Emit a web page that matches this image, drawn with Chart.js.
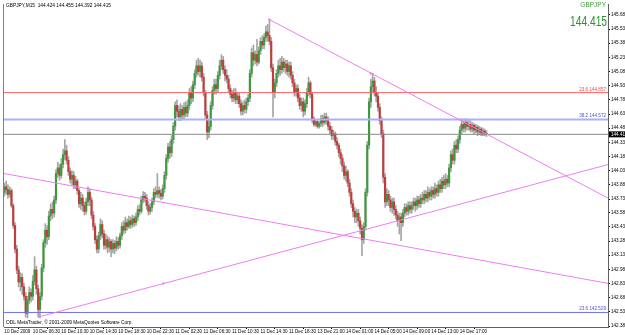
<!DOCTYPE html>
<html>
<head>
<meta charset="UTF-8">
<title>GBPJPY,M15</title>
<script src="https://cdn.jsdelivr.net/npm/chart.js"></script>
<style>
  body { margin: 0; background: #fff; }
  #wrap { width: 625px; height: 335px; }
</style>
</head>
<body>
<div id="wrap"><canvas id="chart" width="625" height="335"></canvas></div>
<script>
const symbol = "GBPJPY";
const period = "M15";

// M15 candles, 10 Dec 2009 02:30 -> 14 Dec 2009
const opens = [
  143.80, 143.86, 143.83, 143.78, 143.82, 143.66, 143.45, 143.20, 142.98, 142.85,
  142.90, 142.80, 142.70, 142.52, 142.66, 142.74, 142.70, 142.86, 142.98, 142.78,
  142.56, 142.70, 143.00, 143.27, 143.40, 143.33, 143.55, 143.62, 143.58, 143.72,
  144.00, 144.06, 143.98, 144.10, 144.20, 144.24, 144.14, 144.02, 143.94, 143.98,
  143.88, 143.92, 143.82, 143.68, 143.74, 143.66, 143.60, 143.70, 143.80, 143.72,
  143.56, 143.44, 143.30, 143.20, 143.34, 143.46, 143.36, 143.24, 143.30, 143.22,
  143.28, 143.20, 143.26, 143.21, 143.28, 143.24, 143.34, 143.44, 143.40, 143.48,
  143.44, 143.50, 143.46, 143.52, 143.48, 143.54, 143.62, 143.60, 143.72, 143.76,
  143.74, 143.66, 143.60, 143.64, 143.70, 143.80, 143.78, 143.82, 143.79, 143.76,
  143.84, 143.98, 144.16, 144.28, 144.22, 144.36, 144.50, 144.72, 144.66, 144.60,
  144.68, 144.62, 144.70, 144.64, 144.72, 144.86, 144.80, 144.94, 145.06, 145.14,
  145.08, 145.14, 145.02, 144.86, 144.62, 144.44, 144.50, 144.72, 144.88, 144.94,
  144.90, 145.04, 145.14, 145.20, 145.10, 145.04, 145.00, 144.90, 144.84, 144.80,
  144.86, 144.78, 144.82, 144.74, 144.66, 144.72, 144.68, 144.76, 144.80, 145.06,
  145.28, 145.20, 145.26, 145.18, 145.30, 145.40, 145.36, 145.44, 145.50, 145.46,
  145.40, 145.12, 144.86, 144.96, 145.06, 145.14, 145.10, 145.18, 145.12, 145.16,
  145.08, 145.14, 145.04, 144.96, 144.86, 144.90, 144.80, 144.72, 144.76, 144.66,
  144.74, 144.86, 144.96, 144.84, 144.58, 144.52, 144.55, 144.50, 144.53, 144.58,
  144.54, 144.60, 144.56, 144.50, 144.46, 144.40, 144.42, 144.34, 144.30, 144.22,
  144.16, 144.08, 143.98, 144.02, 143.90, 143.80, 143.68, 143.60, 143.54, 143.58,
  143.50, 143.42, 143.30, 143.44, 143.80, 144.30, 144.76, 144.92, 144.98, 144.86,
  144.82, 144.70, 144.56, 144.42, 143.96, 143.70, 143.78, 143.72, 143.64, 143.70,
  143.62, 143.56, 143.50, 143.54, 143.48, 143.58, 143.64, 143.60, 143.66, 143.62,
  143.66, 143.70, 143.66, 143.72, 143.68, 143.74, 143.72, 143.78, 143.74, 143.80,
  143.76, 143.82, 143.78, 143.84, 143.80, 143.88, 143.84, 143.92, 143.88, 143.94,
  143.90, 144.06, 144.20, 144.14, 144.30, 144.26, 144.36, 144.46, 144.52, 144.48,
  144.54, 144.50, 144.52, 144.47, 144.51, 144.46, 144.49, 144.44, 144.47, 144.43,
  144.45, 144.424
];
const highs = [
  143.90, 143.92, 143.88, 143.86, 143.84, 143.68, 143.48, 143.24, 143.02, 142.95,
  142.94, 142.84, 142.74, 142.70, 142.80, 142.78, 142.92, 143.12, 143.02, 142.82,
  142.74, 143.04, 143.30, 143.47, 143.45, 143.60, 143.68, 143.70, 143.76, 144.04,
  144.12, 144.10, 144.16, 144.26, 144.36, 144.30, 144.18, 144.06, 144.03, 144.02,
  143.97, 143.94, 143.84, 143.80, 143.78, 143.70, 143.74, 143.86, 143.84, 143.75,
  143.60, 143.47, 143.34, 143.38, 143.52, 143.50, 143.40, 143.36, 143.34, 143.32,
  143.30, 143.30, 143.29, 143.33, 143.32, 143.37, 143.48, 143.50, 143.54, 143.52,
  143.55, 143.54, 143.56, 143.55, 143.58, 143.66, 143.67, 143.76, 143.81, 143.80,
  143.78, 143.70, 143.68, 143.74, 143.84, 143.86, 144.00, 143.86, 143.83, 143.88,
  144.02, 144.20, 144.32, 144.34, 144.40, 144.54, 144.76, 144.78, 144.72, 144.74,
  144.72, 144.75, 144.76, 144.78, 144.90, 144.92, 144.98, 145.10, 145.20, 145.22,
  145.20, 145.18, 145.06, 144.88, 144.66, 144.56, 144.76, 144.92, 145.00, 145.00,
  145.08, 145.20, 145.26, 145.24, 145.14, 145.10, 145.04, 144.94, 144.88, 144.90,
  144.90, 144.86, 144.85, 144.78, 144.76, 144.78, 144.80, 144.84, 145.10, 145.33,
  145.36, 145.30, 145.42, 145.34, 145.44, 145.46, 145.48, 145.56, 145.58, 145.63,
  145.44, 145.16, 145.00, 145.10, 145.20, 145.22, 145.24, 145.22, 145.20, 145.20,
  145.18, 145.18, 145.08, 145.00, 144.94, 144.94, 144.84, 144.80, 144.80, 144.78,
  144.90, 145.02, 144.98, 144.86, 144.60, 144.57, 144.56, 144.55, 144.62, 144.62,
  144.64, 144.64, 144.60, 144.54, 144.50, 144.46, 144.44, 144.38, 144.32, 144.26,
  144.20, 144.12, 144.08, 144.04, 143.94, 143.84, 143.72, 143.64, 143.62, 143.62,
  143.54, 143.46, 143.48, 143.84, 144.34, 144.80, 145.00, 145.06, 145.02, 144.92,
  144.86, 144.74, 144.60, 144.46, 144.00, 143.84, 143.82, 143.76, 143.74, 143.74,
  143.66, 143.60, 143.58, 143.58, 143.62, 143.68, 143.68, 143.70, 143.70, 143.70,
  143.74, 143.74, 143.76, 143.76, 143.78, 143.80, 143.82, 143.82, 143.86, 143.84,
  143.86, 143.86, 143.90, 143.88, 143.92, 143.94, 143.96, 143.98, 144.00, 143.98,
  144.10, 144.24, 144.26, 144.34, 144.36, 144.40, 144.50, 144.58, 144.56, 144.58,
  144.58, 144.56, 144.56, 144.54, 144.53, 144.52, 144.51, 144.50, 144.49, 144.48,
  144.47, 144.455
];
const lows = [
  143.76, 143.78, 143.74, 143.75, 143.64, 143.42, 143.16, 142.94, 142.80, 142.76,
  142.72, 142.66, 142.48, 142.47, 142.62, 142.64, 142.66, 142.82, 142.72, 142.48,
  142.47, 142.66, 142.96, 143.22, 143.25, 143.30, 143.50, 143.52, 143.54, 143.68,
  143.96, 143.93, 143.95, 144.06, 144.15, 144.10, 143.98, 143.90, 143.88, 143.84,
  143.84, 143.78, 143.64, 143.62, 143.60, 143.56, 143.57, 143.66, 143.66, 143.52,
  143.40, 143.26, 143.16, 143.16, 143.30, 143.32, 143.20, 143.20, 143.16, 143.17,
  143.12, 143.16, 143.15, 143.18, 143.20, 143.21, 143.30, 143.36, 143.37, 143.40,
  143.42, 143.42, 143.43, 143.44, 143.45, 143.50, 143.56, 143.58, 143.69, 143.70,
  143.62, 143.56, 143.57, 143.60, 143.67, 143.74, 143.75, 143.74, 143.72, 143.73,
  143.80, 143.94, 144.12, 144.16, 144.18, 144.32, 144.46, 144.60, 144.56, 144.56,
  144.57, 144.58, 144.60, 144.60, 144.68, 144.74, 144.76, 144.90, 145.02, 145.04,
  145.02, 144.98, 144.82, 144.58, 144.36, 144.38, 144.46, 144.68, 144.84, 144.84,
  144.86, 145.00, 145.10, 145.06, 144.98, 144.96, 144.86, 144.80, 144.76, 144.76,
  144.74, 144.74, 144.70, 144.62, 144.62, 144.64, 144.64, 144.72, 144.76, 145.02,
  145.14, 145.16, 145.14, 145.16, 145.26, 145.32, 145.32, 145.40, 145.40, 145.36,
  145.08, 144.60, 144.80, 144.92, 145.02, 145.04, 145.06, 145.08, 145.06, 145.04,
  145.02, 145.00, 144.92, 144.82, 144.82, 144.76, 144.68, 144.66, 144.60, 144.62,
  144.70, 144.82, 144.80, 144.54, 144.50, 144.50, 144.48, 144.48, 144.50, 144.50,
  144.52, 144.52, 144.46, 144.42, 144.36, 144.36, 144.30, 144.26, 144.18, 144.10,
  144.02, 143.94, 143.92, 143.86, 143.76, 143.64, 143.54, 143.48, 143.48, 143.44,
  143.36, 143.13, 143.26, 143.40, 143.76, 144.26, 144.70, 144.86, 144.82, 144.76,
  144.66, 144.52, 144.38, 143.90, 143.64, 143.66, 143.66, 143.60, 143.58, 143.56,
  143.52, 143.44, 143.36, 143.29, 143.44, 143.54, 143.56, 143.56, 143.58, 143.58,
  143.62, 143.60, 143.62, 143.64, 143.64, 143.68, 143.68, 143.70, 143.70, 143.72,
  143.72, 143.74, 143.74, 143.76, 143.76, 143.80, 143.80, 143.84, 143.84, 143.86,
  143.86, 144.02, 144.10, 144.10, 144.22, 144.22, 144.32, 144.42, 144.44, 144.44,
  144.46, 144.46, 144.44, 144.44, 144.42, 144.43, 144.40, 144.41, 144.40, 144.40,
  144.40, 144.392
];
const closes = [
  143.86, 143.83, 143.78, 143.82, 143.66, 143.45, 143.20, 142.98, 142.85, 142.90,
  142.80, 142.70, 142.52, 142.66, 142.74, 142.70, 142.86, 142.98, 142.78, 142.56,
  142.70, 143.00, 143.27, 143.40, 143.33, 143.55, 143.62, 143.58, 143.72, 144.00,
  144.06, 143.98, 144.10, 144.20, 144.24, 144.14, 144.02, 143.94, 143.98, 143.88,
  143.92, 143.82, 143.68, 143.74, 143.66, 143.60, 143.70, 143.80, 143.72, 143.56,
  143.44, 143.30, 143.20, 143.34, 143.46, 143.36, 143.24, 143.30, 143.22, 143.28,
  143.20, 143.26, 143.21, 143.28, 143.24, 143.34, 143.44, 143.40, 143.48, 143.44,
  143.50, 143.46, 143.52, 143.48, 143.54, 143.62, 143.60, 143.72, 143.76, 143.74,
  143.66, 143.60, 143.64, 143.70, 143.80, 143.78, 143.82, 143.79, 143.76, 143.84,
  143.98, 144.16, 144.28, 144.22, 144.36, 144.50, 144.72, 144.66, 144.60, 144.68,
  144.62, 144.70, 144.64, 144.72, 144.86, 144.80, 144.94, 145.06, 145.14, 145.08,
  145.14, 145.02, 144.86, 144.62, 144.44, 144.50, 144.72, 144.88, 144.94, 144.90,
  145.04, 145.14, 145.20, 145.10, 145.04, 145.00, 144.90, 144.84, 144.80, 144.86,
  144.78, 144.82, 144.74, 144.66, 144.72, 144.68, 144.76, 144.80, 145.06, 145.28,
  145.20, 145.26, 145.18, 145.30, 145.40, 145.36, 145.44, 145.50, 145.46, 145.40,
  145.12, 144.86, 144.96, 145.06, 145.14, 145.10, 145.18, 145.12, 145.16, 145.08,
  145.14, 145.04, 144.96, 144.86, 144.90, 144.80, 144.72, 144.76, 144.66, 144.74,
  144.86, 144.96, 144.84, 144.58, 144.52, 144.55, 144.50, 144.53, 144.58, 144.54,
  144.60, 144.56, 144.50, 144.46, 144.40, 144.42, 144.34, 144.30, 144.22, 144.16,
  144.08, 143.98, 144.02, 143.90, 143.80, 143.68, 143.60, 143.54, 143.58, 143.50,
  143.42, 143.30, 143.44, 143.80, 144.30, 144.76, 144.92, 144.98, 144.86, 144.82,
  144.70, 144.56, 144.42, 143.96, 143.70, 143.78, 143.72, 143.64, 143.70, 143.62,
  143.56, 143.50, 143.54, 143.48, 143.58, 143.64, 143.60, 143.66, 143.62, 143.66,
  143.70, 143.66, 143.72, 143.68, 143.74, 143.72, 143.78, 143.74, 143.80, 143.76,
  143.82, 143.78, 143.84, 143.80, 143.88, 143.84, 143.92, 143.88, 143.94, 143.90,
  144.06, 144.20, 144.14, 144.30, 144.26, 144.36, 144.46, 144.52, 144.48, 144.54,
  144.50, 144.52, 144.47, 144.51, 144.46, 144.49, 144.44, 144.47, 144.43, 144.45,
  144.424, 144.415
];

// time axis: one label every 16 bars (4 hours)
const xTickBars = [0, 16, 32, 48, 64, 80, 96, 112, 128, 144, 160, 176, 192, 208, 224, 240, 256];
const xTickLabels = [
  "10 Dec 2009", "10 Dec 06:30", "10 Dec 10:30", "10 Dec 14:30", "10 Dec 18:30",
  "10 Dec 22:30", "11 Dec 02:30", "11 Dec 06:30", "11 Dec 10:30", "11 Dec 14:30",
  "11 Dec 18:30", "13 Dec 21:00", "14 Dec 01:00", "14 Dec 05:00", "14 Dec 09:00",
  "14 Dec 13:00", "14 Dec 17:00"
];
const yTickValues = [
  145.680, 145.530, 145.380, 145.230, 145.080, 144.930, 144.780, 144.630,
  144.480, 144.330, 144.180, 144.030, 143.880, 143.730, 143.585, 143.435,
  143.285, 143.135, 142.985, 142.835, 142.685, 142.535, 142.385
];

// fibo levels and trend lines (bar index, price)
const fiboNames = ["23.6", "38.2", "23.6"];
const fiboLevels = [144.857, 144.572, 142.529];
const trendFromBar = [149, 19, -0.2];
const trendFromPrice = [145.63, 142.48, 144.00];
const trendToBar = [339.3, 339.3, 339.3];
const trendToPrice = [143.74, 144.095, 142.837];
const anchorBars = [149, 206, 89.4];
const anchorPrices = [145.63, 145.06, 142.835];

const xMin = -0.2, xMax = 339.3;
const yMin = 142.375, yMax = 145.795;

const last = closes.length - 1;
const fiboColors = ["#ff6464", "#aab0ff", "#6f6ff0"];
const fiboWidths = [1, 2, 1];
const trendColor = "#f07cf0";
const smallFont = { family: "Liberation Sans", size: 4.6 };

const datasets = [];
trendFromBar.forEach((b, i) => {
  datasets.push({
    type: "line",
    data: [{ x: b, y: trendFromPrice[i] }, { x: trendToBar[i], y: trendToPrice[i] }],
    borderColor: trendColor,
    borderWidth: 1,
    pointRadius: 0
  });
});
datasets.push({
  type: "line",
  data: anchorBars.map((b, i) => ({ x: b, y: anchorPrices[i] })),
  showLine: false,
  pointRadius: 1.2,
  pointBorderWidth: 0,
  pointBackgroundColor: trendColor
});
fiboLevels.forEach((lv, i) => {
  datasets.push({
    type: "line",
    data: [{ x: xMin, y: lv }, { x: xMax, y: lv }],
    borderColor: fiboColors[i],
    borderWidth: fiboWidths[i],
    pointRadius: 0
  });
});
datasets.push({
  type: "line",
  data: [{ x: xMin, y: closes[last] }, { x: xMax, y: closes[last] }],
  borderColor: "#8a8a8a",
  borderWidth: 1,
  pointRadius: 0
});
datasets.push({
  type: "bar",
  data: closes.map((c, i) => ({ x: i, y: [opens[i], c] })),
  backgroundColor: ctx => {
    const i = ctx.dataIndex;
    return closes[i] >= opens[i] ? "#3c9a3c" : "#c23c3c";
  },
  barThickness: 1.5,
  minBarLength: 1,
  grouped: false,
  borderWidth: 0
});
datasets.push({
  type: "bar",
  data: lows.map((l, i) => ({ x: i, y: [l, highs[i]] })),
  backgroundColor: "#a6a6a6",
  barThickness: 1,
  grouped: false,
  borderWidth: 0
});

const overlay = {
  id: "overlay",
  afterDraw(chart) {
    const ctx = chart.ctx;
    const a = chart.chartArea;
    const ys = chart.scales.y;
    ctx.save();
    // left frame
    ctx.strokeStyle = "#808080";
    ctx.lineWidth = 1;
    ctx.beginPath();
    ctx.moveTo(a.left - 0.5, a.top);
    ctx.lineTo(a.left - 0.5, a.bottom);
    ctx.stroke();

    ctx.textBaseline = "middle";
    ctx.font = "4.8px 'Liberation Sans'";
    ctx.fillStyle = "#000";
    ctx.textAlign = "left";
    const f = v => v.toFixed(3);
    ctx.fillText(symbol + "," + period + "  " + f(opens[last]) + " " + f(highs[last]) + " " +
      f(lows[last]) + " " + f(closes[last]), a.left + 2, 5.5);
    ctx.fillText("ODL MetaTrader, \u00a9 2001-2009 MetaQuotes Software Corp.", a.left + 2, a.bottom - 4);

    // symbol and big bid price
    ctx.textAlign = "right";
    ctx.fillStyle = "#3a9a3a";
    ctx.font = "6.5px 'Liberation Sans'";
    ctx.fillText(symbol, a.right - 2, 5.5);
    ctx.save();
    ctx.translate(a.right - 1, 22);
    ctx.scale(0.73, 1);
    ctx.font = "14px 'Liberation Sans'";
    ctx.fillStyle = "#2f8f2f";
    ctx.fillText(closes[last].toFixed(3), 0, 0);
    ctx.restore();

    // fibo labels
    ctx.font = "4.6px 'Liberation Sans'";
    ctx.textBaseline = "bottom";
    fiboLevels.forEach((lv, i) => {
      ctx.fillStyle = i === 0 ? "#ff4040" : "#5050e0";
      ctx.fillText(fiboNames[i] + " " + lv.toFixed(3), a.right - 2, ys.getPixelForValue(lv) - 1);
    });

    // current price box on the axis
    const py = ys.getPixelForValue(closes[last]);
    ctx.fillStyle = "#000";
    ctx.fillRect(a.right + 1, py - 3, chart.width - a.right - 1, 6);
    ctx.fillStyle = "#fff";
    ctx.textAlign = "left";
    ctx.textBaseline = "middle";
    ctx.fillText(closes[last].toFixed(3), a.right + 3, py);
    ctx.restore();
  }
};

new Chart(document.getElementById("chart"), {
  type: "bar",
  data: { datasets: datasets },
  options: {
    responsive: false,
    animation: false,
    devicePixelRatio: 1,
    layout: { padding: { left: 2, top: 1, right: 0, bottom: 0 } },
    plugins: { legend: { display: false }, tooltip: { enabled: false } },
    scales: {
      x: {
        type: "linear",
        min: xMin,
        max: xMax,
        offset: false,
        afterBuildTicks: s => { s.ticks = xTickBars.map(v => ({ value: v })); },
        afterFit: s => { s.height = 8; },
        grid: { drawOnChartArea: false, tickLength: 2, color: "#000" },
        border: { color: "#606060" },
        ticks: {
          autoSkip: false,
          maxRotation: 0,
          align: "start",
          padding: 0,
          color: "#000",
          font: smallFont,
          callback: v => xTickLabels[xTickBars.indexOf(v)]
        }
      },
      y: {
        type: "linear",
        position: "right",
        min: yMin,
        max: yMax,
        afterBuildTicks: s => { s.ticks = yTickValues.map(v => ({ value: v })); },
        afterFit: s => { s.width = 17; },
        grid: { drawOnChartArea: false, tickLength: 2, color: "#000" },
        border: { color: "#606060" },
        ticks: {
          autoSkip: false,
          padding: 1,
          color: "#000",
          font: smallFont,
          callback: v => v.toFixed(3)
        }
      }
    }
  },
  plugins: [overlay]
});
</script>
</body>
</html>
